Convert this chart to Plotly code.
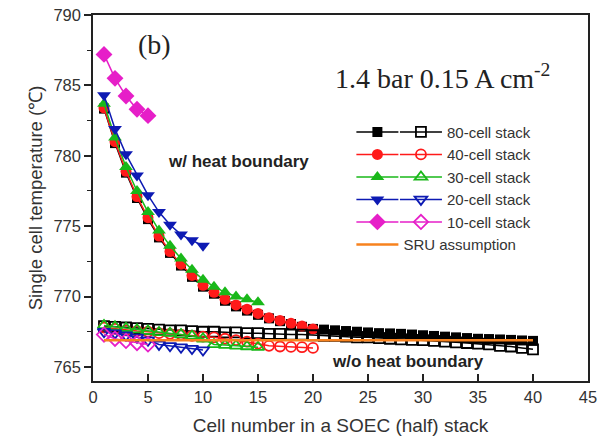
import plotly.graph_objects as go

# ---------------- data ----------------
x80 = list(range(1, 41))
x40 = list(range(1, 21))
x30 = list(range(1, 16))
x20 = list(range(1, 11))
x10 = list(range(1, 6))

# with heat boundary (filled markers)
hb80 = [783.35, 780.9, 778.8, 777.0, 775.5, 774.2, 773.1, 772.2, 771.4, 770.7,
        770.2, 769.7, 769.3, 769.0, 768.7, 768.45, 768.25, 768.05, 767.85, 767.7,
        767.65, 767.6, 767.55, 767.5, 767.45, 767.4, 767.38, 767.35, 767.3, 767.25,
        767.2, 767.15, 767.1, 767.05, 767.0, 766.98, 766.95, 766.92, 766.88, 766.85]
hb40 = [783.4, 781.0, 778.9, 777.1, 775.6, 774.3, 773.2, 772.3, 771.5, 770.8,
        770.3, 769.8, 769.4, 769.1, 768.8, 768.5, 768.3, 768.1, 767.9, 767.7]
hb30 = [783.7, 781.3, 779.2, 777.5, 776.0, 774.7, 773.6, 772.7, 771.9, 771.2,
        770.7, 770.3, 770.0, 769.8, 769.6]
hb20 = [784.3, 781.9, 780.1, 778.6, 777.2, 776.0, 775.1, 774.4, 774.0, 773.6]
hb10 = [787.2, 785.5, 784.25, 783.3, 782.85]

# without heat boundary (open markers)
nb80 = [767.9, 767.85, 767.8, 767.75, 767.7, 767.65, 767.6, 767.6, 767.55, 767.5,
        767.5, 767.45, 767.45, 767.4, 767.4, 767.35, 767.35, 767.3, 767.3, 767.25,
        767.2, 767.2, 767.15, 767.1, 767.1, 767.05, 767.0, 766.95, 766.92, 766.9,
        766.85, 766.8, 766.75, 766.7, 766.65, 766.6, 766.5, 766.45, 766.35, 766.25]
nb40 = [767.8, 767.7, 767.6, 767.55, 767.5, 767.4, 767.35, 767.3, 767.2, 767.15,
        767.1, 767.0, 766.9, 766.8, 766.65, 766.5, 766.45, 766.42, 766.4, 766.35]
nb30 = [767.95, 767.85, 767.75, 767.65, 767.55, 767.45, 767.4, 767.3, 767.2, 767.0,
        766.6, 766.55, 766.5, 766.45, 766.4]
nb20 = [767.5, 767.4, 767.25, 767.1, 766.9, 766.6, 766.5, 766.4, 766.3, 766.2]
nb10 = [767.3, 767.0, 766.85, 766.7, 766.6]

sru_x = [1, 40]
sru_y = [766.9, 766.9]

labels = ["80-cell stack", "40-cell stack", "30-cell stack", "20-cell stack", "10-cell stack"]
colors = ["#000000", "#ff1a1a", "#19b819", "#0d1ab3", "#e61fc8"]
sym_f = ["square", "circle", "triangle-up", "triangle-down", "diamond"]
sym_o = ["square-open", "circle-open", "triangle-up-open", "triangle-down-open", "diamond-open"]
sizes_f = [10, 11, 12, 12, 13]
sizes_o = [10, 10, 11, 11, 11]

xs = [x80, x40, x30, x20, x10]
hbs = [hb80, hb40, hb30, hb20, hb10]
nbs = [nb80, nb40, nb30, nb20, nb10]

fig = go.Figure()

for i in range(5):
    fig.add_trace(go.Scatter(
        x=xs[i], y=hbs[i], mode="lines+markers", name=" ",
        line=dict(color=colors[i], width=1.5),
        marker=dict(symbol=sym_f[i], size=sizes_f[i], color=colors[i]),
        legend="legend", legendgroup="f%d" % i,
    ))
for i in range(5):
    fig.add_trace(go.Scatter(
        x=xs[i], y=nbs[i], mode="lines+markers", name=labels[i],
        line=dict(color=colors[i], width=1.5),
        marker=dict(symbol=sym_o[i], size=sizes_o[i], color=colors[i],
                    line=dict(color=colors[i], width=1.8)),
        legend="legend2", legendgroup="o%d" % i,
    ))
fig.add_trace(go.Scatter(
    x=sru_x, y=sru_y, mode="lines", name="SRU assumption",
    line=dict(color="#f7821e", width=2.5),
    legend="legend", legendgroup="sru",
))

SANS = "Liberation Sans, Arial, sans-serif"
SERIF = "Liberation Serif, Times New Roman, serif"
axis_font = dict(family=SANS, size=16.5, color="#333333")
leg_font = dict(family=SANS, size=15, color="#333333")

fig.update_layout(
    width=604, height=441,
    margin=dict(l=93, r=16, t=15, b=60, autoexpand=False),
    paper_bgcolor="white", plot_bgcolor="white",
    font=dict(family=SANS, color="#333333"),
    xaxis=dict(
        range=[0, 45], dtick=5, tick0=0, automargin=False,
        ticks="inside", ticklen=7, tickwidth=1.5, tickcolor="#222",
        showline=True, linecolor="#222", linewidth=1.5, mirror=True,
        showgrid=False, zeroline=False, tickfont=axis_font,
        title=dict(text="Cell number in a SOEC (half) stack",
                   font=dict(family=SANS, size=19, color="#333333"),
                   standoff=14),
    ),
    yaxis=dict(
        range=[764, 790], dtick=5, tick0=765, automargin=False,
        ticks="outside", ticklen=7, tickwidth=1.5, tickcolor="#222",
        minor=dict(dtick=2.5, ticks="outside", ticklen=4, tickwidth=1.2, tickcolor="#222"),
        showline=True, linecolor="#222", linewidth=1.5, mirror=True,
        showgrid=False, zeroline=False, tickfont=axis_font,
        title=dict(text="Single cell temperature (℃)",
                   font=dict(family=SANS, size=18.5, color="#333333"),
                   standoff=6),
    ),
    legend=dict(
        x=0.522, y=0.725, xanchor="left", yanchor="top",
        bgcolor="rgba(0,0,0,0)", borderwidth=0,
        font=leg_font, itemwidth=42, tracegroupgap=0,
    ),
    legend2=dict(
        x=0.61, y=0.725, xanchor="left", yanchor="top",
        bgcolor="rgba(0,0,0,0)", borderwidth=0,
        font=leg_font, itemwidth=42, tracegroupgap=0,
    ),
    annotations=[
        dict(x=5.6, y=787.9, xref="x", yref="y", text="(b)", showarrow=False,
             font=dict(family=SERIF, size=28, color="#222")),
        dict(x=31.8, y=785.6, xref="x", yref="y", text="1.4 bar 0.15 A cm<sup>-2</sup>",
             showarrow=False,
             font=dict(family=SERIF, size=28, color="#222")),
        dict(x=13.2, y=779.6, xref="x", yref="y", text="<b>w/ heat boundary</b>",
             showarrow=False,
             font=dict(family=SANS, size=17, color="#222")),
        dict(x=28.6, y=765.4, xref="x", yref="y", text="<b>w/o heat boundary</b>",
             showarrow=False,
             font=dict(family=SANS, size=17, color="#222")),
    ],
)

fig.write_html("out.html")
